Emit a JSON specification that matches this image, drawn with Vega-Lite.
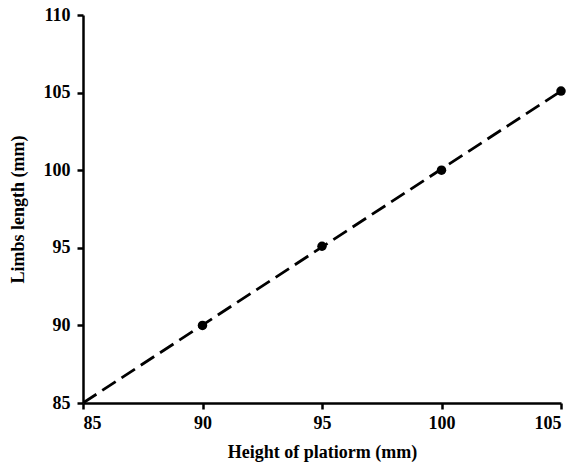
{
  "$schema": "https://vega.github.io/schema/vega-lite/v6.json",
  "autosize": "none",
  "padding": {"left": 83, "top": 15, "right": 23, "bottom": 63},
  "width": 478,
  "height": 388,
  "background": "white",
  "config": {
    "view": {"stroke": null},
    "axis": {
      "labelFont": "Liberation Serif",
      "titleFont": "Liberation Serif",
      "labelFontSize": 18,
      "titleFontSize": 18,
      "labelFontWeight": "bold",
      "titleFontWeight": "bold",
      "labelColor": "black",
      "titleColor": "black",
      "domainColor": "black",
      "domainWidth": 2.5,
      "tickColor": "black",
      "tickWidth": 2.5,
      "tickSize": 6,
      "grid": false
    }
  },
  "datasets": {
    "fit": [{"h": 85, "l": 85}, {"h": 105, "l": 105.1}],
    "pts": [{"h": 90, "l": 90}, {"h": 95, "l": 95.1}, {"h": 100, "l": 100}, {"h": 105, "l": 105.1}]
  },
  "layer": [
    {
      "data": {"name": "fit"},
      "mark": {"type": "line", "color": "black", "strokeWidth": 2.8, "strokeDash": [16, 7], "clip": true},
      "encoding": {
        "x": {"field": "h", "type": "quantitative", "scale": {"domain": [85, 105], "nice": false, "zero": false}, "axis": {"values": [85, 90, 95, 100, 105], "title": "Height of platiorm (mm)", "labelPadding": 5, "titlePadding": 11}},
        "y": {"field": "l", "type": "quantitative", "scale": {"domain": [85, 110], "nice": false, "zero": false}, "axis": {"values": [85, 90, 95, 100, 105, 110], "title": "Limbs length (mm)", "labelPadding": 7, "titlePadding": 16}}
      }
    },
    {
      "data": {"name": "pts"},
      "mark": {"type": "point", "filled": true, "color": "black", "opacity": 1, "size": 90},
      "encoding": {
        "x": {"field": "h", "type": "quantitative"},
        "y": {"field": "l", "type": "quantitative"}
      }
    }
  ]
}
